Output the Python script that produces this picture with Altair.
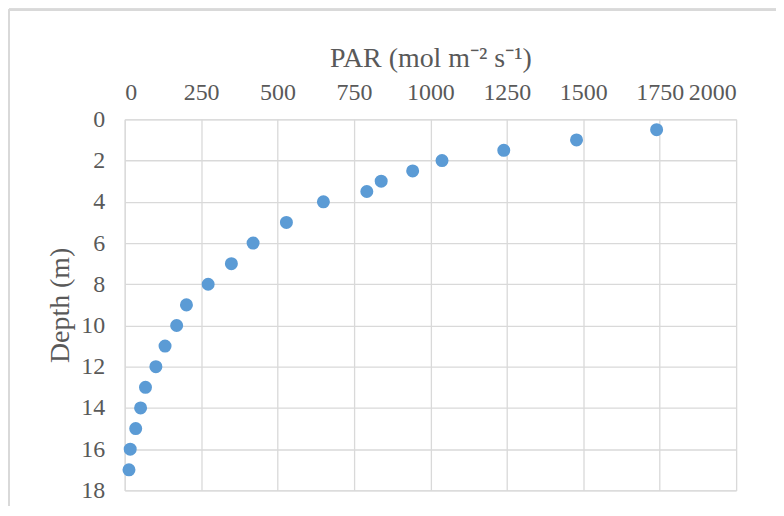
import altair as alt
import pandas as pd

# depth (m) and PAR
depth = [0.5, 1, 1.5, 2, 2.5, 3, 3.5, 4, 5, 6, 7, 8, 9, 10, 11, 12, 13, 14, 15, 16, 17]
par = [1740, 1478, 1240, 1038, 942, 839, 792, 650, 529, 420, 349, 273, 202, 170,
       132, 102, 68, 52, 36, 18, 14]
x_ticks = list(range(0, 2001, 250))
y_ticks = list(range(0, 19, 2))

FONT = 'Liberation Serif'
TEXT = '#595959'
GRID = '#d9d9d9'

df = pd.DataFrame({'depth': depth, 'par': par})

points = alt.Chart(df).mark_circle(size=170, color='#5B9BD5', opacity=1).encode(
    x=alt.X('par:Q', title='PAR (mol m⁻² s⁻¹)',
            scale=alt.Scale(domain=[0, 2000], nice=False),
            axis=alt.Axis(orient='top', values=x_ticks, format='d',
                          labelPadding=15, titlePadding=8)),
    y=alt.Y('depth:Q', title='Depth (m)',
            scale=alt.Scale(domain=[0, 18], reverse=True, nice=False),
            axis=alt.Axis(values=y_ticks, format='d', labelPadding=20,
                          titlePadding=6)),
)

# outer chart-area frame (left and top edges visible in the reference)
frame_left = alt.Chart(df).mark_rule(color=GRID, strokeWidth=2, clip=False).encode(
    x=alt.value(-116), y=alt.value(-110), y2=alt.value(400)
)
frame_top = alt.Chart(df).mark_rule(color=GRID, strokeWidth=2, clip=False).encode(
    x=alt.value(-116), x2=alt.value(653), y=alt.value(-110)
)

chart = alt.layer(frame_left, frame_top, points).properties(
    width=613,
    height=372,
    autosize=alt.AutoSizeParams(type='none'),
    padding={'left': 117, 'top': 111, 'right': 40, 'bottom': 15},
).configure_view(
    stroke=GRID, strokeWidth=1
).configure_axis(
    grid=True, gridColor=GRID, gridWidth=1.3, domain=False, ticks=False,
    labelFont=FONT, labelFontSize=24, labelColor=TEXT,
    titleFont=FONT, titleFontSize=28, titleColor=TEXT, titleFontWeight='normal',
)

chart.save('out.html', embed_options={'renderer': 'svg', 'actions': False})
